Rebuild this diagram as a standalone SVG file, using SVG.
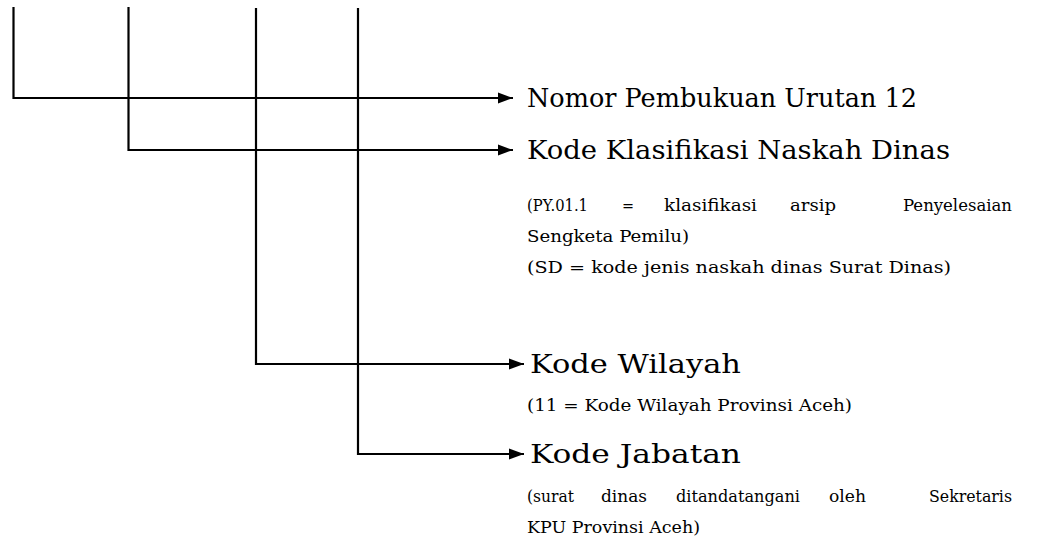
<svg xmlns="http://www.w3.org/2000/svg" width="1040" height="555" viewBox="0 0 1040 555">
<style>
.c{fill:none;stroke:#000;stroke-width:2.2}
.h{font-family:"DejaVu Serif","Liberation Serif",serif;font-size:26px;fill:#000}
.s{font-family:"DejaVu Serif","Liberation Serif",serif;font-size:16px;fill:#000}
</style>
<defs>
<marker id="ah" markerUnits="userSpaceOnUse" markerWidth="16" markerHeight="12" refX="15" refY="6" orient="auto">
<path d="M0,0.5 L15,6 L0,11.5 Z" fill="#000"/>
</marker>
</defs>
<rect width="1040" height="555" fill="#fff"/>
<g id="connectors">
<path class="c" d="M13.5,7 V98 H513" marker-end="url(#ah)"/>
<path class="c" d="M128.5,7 V150 H513" marker-end="url(#ah)"/>
<path class="c" d="M256,8 V364 H524" marker-end="url(#ah)"/>
<path class="c" d="M358,8 V454 H524" marker-end="url(#ah)"/>
</g>
<g id="node-nomor">
<text class="h" x="527" y="107" textLength="390" lengthAdjust="spacingAndGlyphs">Nomor Pembukuan Urutan 12</text>
</g>
<g id="node-klasifikasi">
<text class="h" x="527" y="159" textLength="423" lengthAdjust="spacingAndGlyphs">Kode Klasifikasi Naskah Dinas</text>
<text class="s" x="527" y="211" textLength="61" lengthAdjust="spacingAndGlyphs">(PY.01.1</text>
<text class="s" x="622" y="211" textLength="12" lengthAdjust="spacingAndGlyphs">=</text>
<text class="s" x="664" y="211" textLength="93" lengthAdjust="spacingAndGlyphs">klasifikasi</text>
<text class="s" x="790" y="211" textLength="46" lengthAdjust="spacingAndGlyphs">arsip</text>
<text class="s" x="903" y="211" textLength="109" lengthAdjust="spacingAndGlyphs">Penyelesaian</text>
<text class="s" x="527" y="242" textLength="162" lengthAdjust="spacingAndGlyphs">Sengketa Pemilu)</text>
<text class="s" x="527" y="273" textLength="424" lengthAdjust="spacingAndGlyphs">(SD = kode jenis naskah dinas Surat Dinas)</text>
</g>
<g id="node-wilayah">
<text class="h" x="530" y="373" textLength="211" lengthAdjust="spacingAndGlyphs">Kode Wilayah</text>
<text class="s" x="527" y="411" textLength="325" lengthAdjust="spacingAndGlyphs">(11 = Kode Wilayah Provinsi Aceh)</text>
</g>
<g id="node-jabatan">
<text class="h" x="530" y="463" textLength="211" lengthAdjust="spacingAndGlyphs">Kode Jabatan</text>
<text class="s" x="527" y="502" textLength="47" lengthAdjust="spacingAndGlyphs">(surat</text>
<text class="s" x="601" y="502" textLength="46" lengthAdjust="spacingAndGlyphs">dinas</text>
<text class="s" x="676" y="502" textLength="124" lengthAdjust="spacingAndGlyphs">ditandatangani</text>
<text class="s" x="829" y="502" textLength="37" lengthAdjust="spacingAndGlyphs">oleh</text>
<text class="s" x="929" y="502" textLength="83" lengthAdjust="spacingAndGlyphs">Sekretaris</text>
<text class="s" x="527" y="533" textLength="173" lengthAdjust="spacingAndGlyphs">KPU Provinsi Aceh)</text>
</g>
</svg>
